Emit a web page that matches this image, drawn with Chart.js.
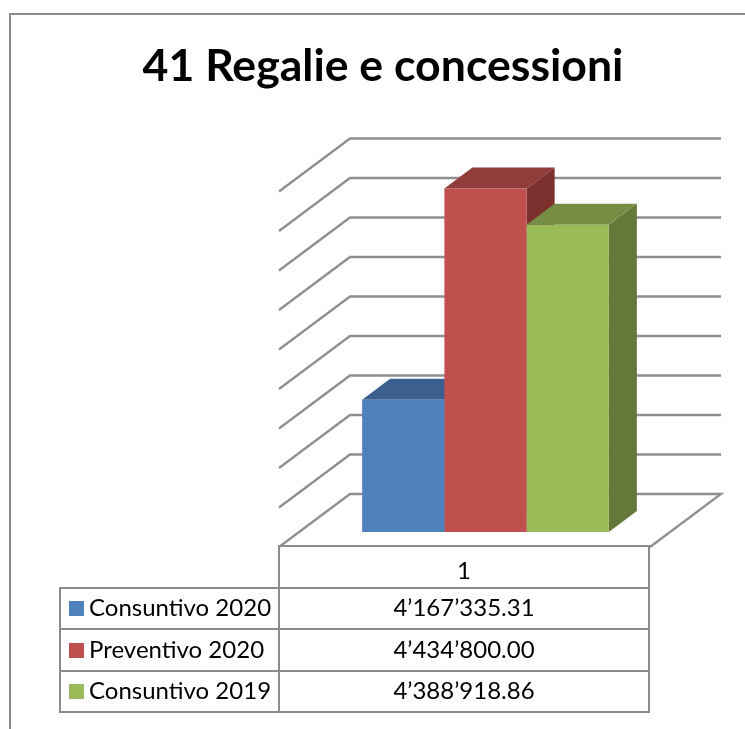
<!DOCTYPE html>
<html>
<head>
<meta charset="utf-8">
<script src="https://cdn.jsdelivr.net/npm/chart.js@4"></script>
<style>
html, body { margin: 0; padding: 0; background: #fff; }
#page { position: relative; width: 745px; height: 729px; overflow: hidden; font-family: Lato, sans-serif; color: #000; }
#frame { position: absolute; left: 9px; top: 13px; width: 800px; height: 800px; border: 2px solid #8c8c8c; box-sizing: border-box; }
#title { position: absolute; left: 10px; width: 746px; top: 36px; text-align: center; font-size: 44.6px; font-weight: 700; line-height: 56px; }
#chart { position: absolute; left: 0; top: 0; }
#data-table { position: absolute; left: 59px; top: 545px; border-collapse: collapse; table-layout: fixed; width: 591px; font-size: 24px; }
#data-table td { border: 2px solid #8c8c8c; height: 41.5px; padding: 0 0 3px 0; box-sizing: border-box; white-space: nowrap; }
#data-table td.blank { border-left: none; border-top: none; }
#data-table td.val { text-align: center; }
#data-table td.head { padding: 6px 0 0 0; }
#data-table td.name { padding-left: 8px; }
.swatch { display: inline-block; width: 15px; height: 15px; margin-right: 5px; }
</style>
</head>
<body>
<div id="page">
  <div id="frame"></div>
  <canvas id="chart" width="745" height="729"></canvas>
  <div id="title"></div>
  <table id="data-table"></table>
</div>
<script>
// chart data
const chartTitle = '41 Regalie e concessioni';
const categories = ['1'];
const seriesNames = ['Consuntivo 2020', 'Preventivo 2020', 'Consuntivo 2019'];
const consuntivo2020 = [4167335.31];
const preventivo2020 = [4434800.00];
const consuntivo2019 = [4388918.86];
const seriesColors = ['#4f81bd', '#c0504d', '#9bbb59'];
const topColors = ['#3b5f8e', '#903c3a', '#768e44'];
const sideColors = ['#2f4d73', '#7c302e', '#64783a'];
const gridColor = '#8f8f8f';

// perspective offsets of the box, relative to the plane of the bars
const frontOff = { x: -21, y: 15 };
const backOff = { x: 50, y: -38 };
const barDepth = { x: 28, y: -21 };

function fmt(v) {
    return v.toFixed(2).replace(/\B(?=(\d{3})+(?!\d))/g, '’');
}

function poly(ctx, pts, color) {
    ctx.fillStyle = color;
    ctx.beginPath();
    pts.forEach((p, i) => i ? ctx.lineTo(p[0], p[1]) : ctx.moveTo(p[0], p[1]));
    ctx.closePath();
    ctx.fill();
}

const box3d = {
    id: 'box3d',
    beforeDatasetsDraw(chart) {
        const ctx = chart.ctx;
        const { left, right, bottom } = chart.chartArea;
        const y = chart.scales.y;
        ctx.save();
        ctx.strokeStyle = gridColor;
        ctx.lineWidth = 2.3;
        y.ticks.forEach(t => {
            const py = y.getPixelForValue(t.value);
            ctx.beginPath();
            ctx.moveTo(left + frontOff.x, py + frontOff.y);
            ctx.lineTo(left + backOff.x, py + backOff.y);
            ctx.lineTo(right + backOff.x, py + backOff.y);
            if (t.value === y.min) {
                // floor outline
                ctx.lineTo(right + frontOff.x, py + frontOff.y);
            }
            ctx.stroke();
        });
        // top and side faces, the library draws the front faces afterwards
        chart.data.datasets.forEach((ds, i) => {
            const bar = chart.getDatasetMeta(i).data[0];
            const l = bar.x - bar.width / 2;
            const r = bar.x + bar.width / 2;
            poly(ctx, [[r, bar.y], [r + barDepth.x, bar.y + barDepth.y], [r + barDepth.x, bottom + barDepth.y], [r, bottom]], sideColors[i]);
            poly(ctx, [[l, bar.y], [l + barDepth.x, bar.y + barDepth.y], [r + barDepth.x, bar.y + barDepth.y], [r, bar.y]], topColors[i]);
        });
        ctx.restore();
    }
};

new Chart(document.getElementById('chart'), {
    type: 'bar',
    data: {
        labels: categories,
        datasets: [
            { label: seriesNames[0], data: consuntivo2020, backgroundColor: seriesColors[0] },
            { label: seriesNames[1], data: preventivo2020, backgroundColor: seriesColors[1] },
            { label: seriesNames[2], data: consuntivo2019, backgroundColor: seriesColors[2] }
        ]
    },
    options: {
        responsive: false,
        animation: false,
        layout: { padding: { left: 300, right: 74, top: 176.5, bottom: 197 } },
        datasets: { bar: { categoryPercentage: 0.665, barPercentage: 1, borderWidth: 0 } },
        plugins: { legend: { display: false }, tooltip: { enabled: false } },
        scales: {
            x: { display: false },
            y: { display: false, min: 4000000, max: 4450000, ticks: { stepSize: 50000 } }
        }
    },
    plugins: [box3d]
});

document.getElementById('title').textContent = chartTitle;

const values = [consuntivo2020[0], preventivo2020[0], consuntivo2019[0]];
let html = `<colgroup><col style="width:219px"><col></colgroup>`;
html += `<tr><td class="blank"></td><td class="val head">${categories[0]}</td></tr>`;
seriesNames.forEach((name, i) => {
    html += `<tr><td class="name"><span class="swatch" style="background:${seriesColors[i]}"></span>${name}</td><td class="val">${fmt(values[i])}</td></tr>`;
});
document.getElementById('data-table').innerHTML = html;
</script>
</body>
</html>
